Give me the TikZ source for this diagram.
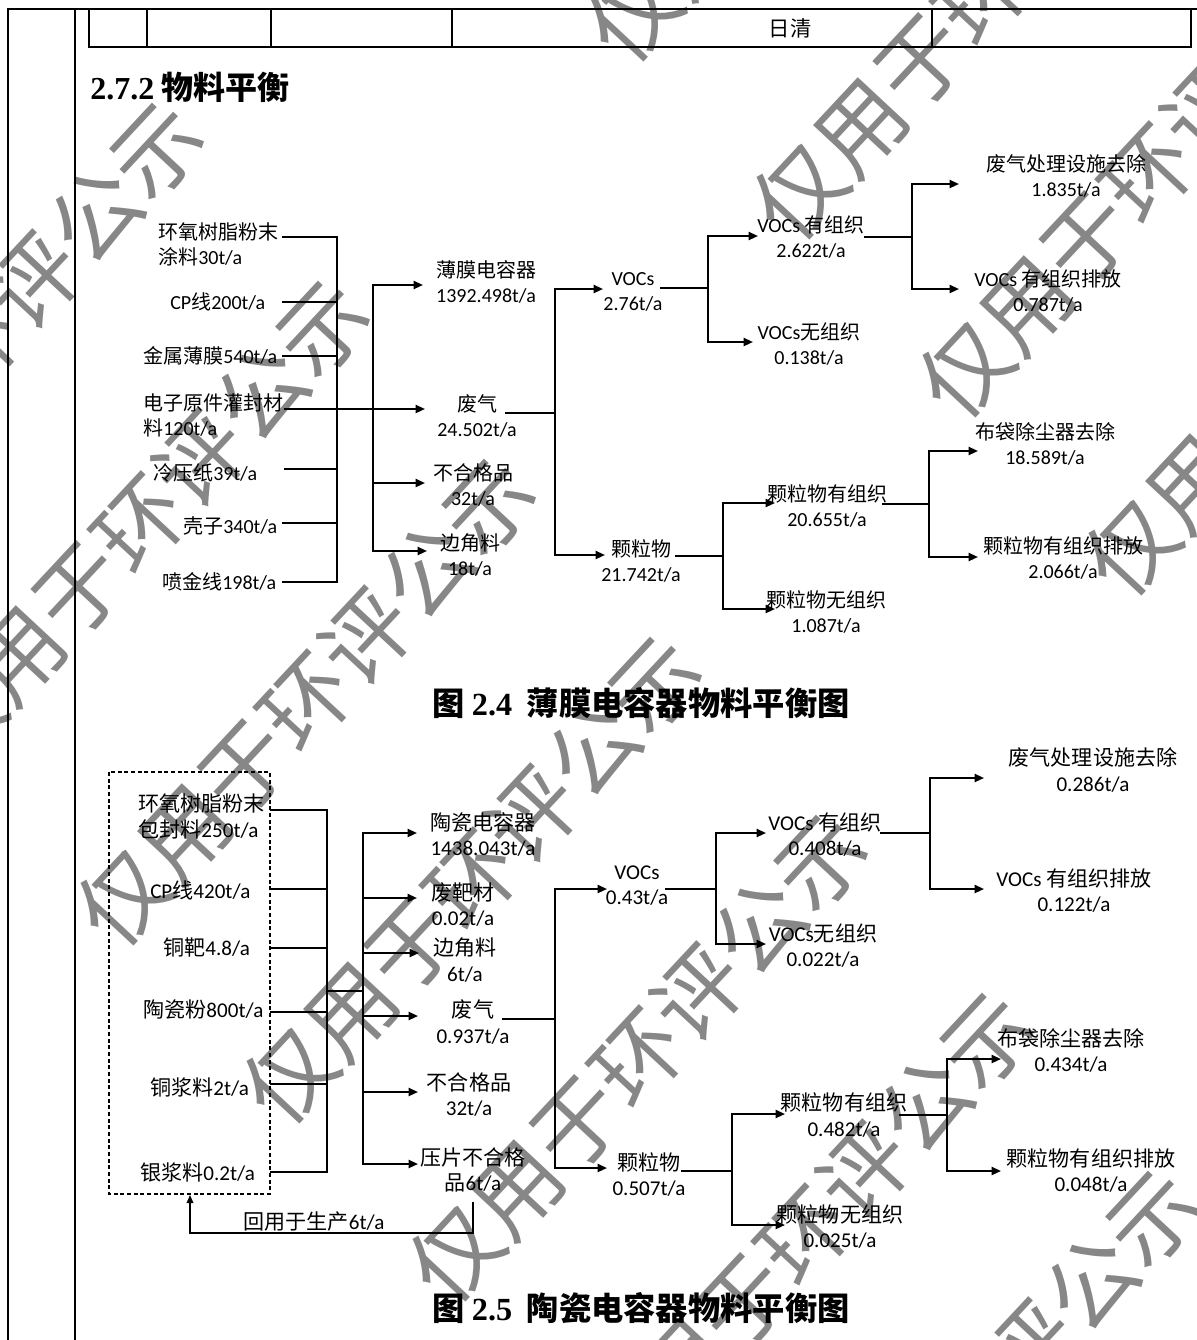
\documentclass[tikz,border=0pt]{standalone}
\usepackage{fontspec}
\setmainfont{Carlito}
\newfontfamily\cjk{Noto Sans CJK SC}
\newfontfamily\tnr{Liberation Serif}
\usetikzlibrary{arrows.meta}
\newcommand\zc[1]{{\cjk #1}}
\begin{document}
\begin{tikzpicture}[x=0.75pt,y=-0.75pt,
  lbl/.style={font=\fontsize{15}{18.75}\selectfont, align=center, inner sep=0pt},
  lbll/.style={lbl, align=left, anchor=west},
  lbl2/.style={font=\fontsize{15.8}{19.2}\selectfont, align=center, inner sep=0pt},
  lbl2l/.style={lbl2, align=left, anchor=west},
  ln/.style={line width=1.5pt, line cap=rect},
  arr/.style={line width=1.5pt, line cap=rect, -{Triangle[length=7pt,width=6pt]}},
  thinarr/.style={line width=1pt, -{Triangle[length=6pt,width=5pt]}},
  dbox/.style={line width=0.8pt, dash pattern=on 3pt off 2pt},
  wm/.style={font={\cjk\fontsize{67}{67}\selectfont}, text=black!47, rotate=47, inner sep=0pt},
  capt/.style={font=\fontsize{24.2}{24.2}\selectfont, inner sep=0pt},
  tbl/.style={line width=0.9pt}]
\useasboundingbox (0,0) rectangle (1197,1340);
\clip (0,0) rectangle (1197,1340);
\fill[white] (0,0) rectangle (1197,1340);

% ---------- watermark ----------
\node[wm] (w0) at (-26,346) {仅用于环评公示};
\node[wm] (w1) at (140,524) {仅用于环评公示};
\node[wm] (w1b) at (816,-182) {仅用于环评公示};
\node[wm] (w2) at (306,702) {仅用于环评公示};
\node[wm] (w2b) at (982,-4) {仅用于环评公示};
\node[wm] (w3) at (472,880) {仅用于环评公示};
\node[wm] (w3b) at (1148,174) {仅用于环评公示};
\node[wm] (w4) at (638,1058) {仅用于环评公示};
\node[wm] (w4b) at (1314,352) {仅用于环评公示};
\node[wm] (w5) at (804,1236) {仅用于环评公示};
\node[wm] (w6) at (970,1414) {仅用于环评公示};

% ---------- page frame and table ----------
\coordinate (pt1) at (7,9);
\coordinate (pt2) at (1197,9);
\draw[line width=2.2pt] (pt1) -- (pt2);
\coordinate (lo1) at (8,9);
\coordinate (lo2) at (8,1340);
\draw[line width=1.5pt] (lo1) -- (lo2);
\coordinate (li1) at (75,9);
\coordinate (li2) at (75,1340);
\draw[line width=1.2pt] (li1) -- (li2);
\coordinate (tb1) at (89,9);
\coordinate (tb2) at (1191,47);
\draw[tbl] (tb1) |- (tb2) -- (tb2 |- tb1);
\foreach \cx in {147,271,452,932} \draw[tbl] (\cx,9) -- (\cx,47);
\node[font={\cjk\fontsize{16}{16}\selectfont}, inner sep=0pt] (rq) at (790,28) {日清};

\node[anchor=west, inner sep=0pt, font=\fontsize{24}{24}\selectfont] (hd) at (90,87) {{\tnr\bfseries 2.7.2} {\cjk\bfseries 物料平衡}};

% ================= Diagram 1 =================
\node[lbll] (in1) at (158,244.5) {\zc{环氧树脂粉末}\\\zc{涂料}30t/a};
\node[lbll] (in2) at (170,302) {CP\zc{线}200t/a};
\node[lbll] (in3) at (143,356) {\zc{金属薄膜}540t/a};
\node[lbll] (in4) at (143,415) {\zc{电子原件灌封材}\\\zc{料}120t/a};
\node[lbll] (in5) at (153,473) {\zc{冷压纸}39t/a};
\node[lbll] (in6) at (183,526) {\zc{壳子}340t/a};
\node[lbll] (in7) at (162,582) {\zc{喷金线}198t/a};

\node[lbl] (o1) at (486,281.5) {\zc{薄膜电容器}\\1392.498t/a};
\node[lbl] (o2) at (477,415.5) {\zc{废气}\\24.502t/a};
\node[lbl] (o3) at (473,485) {\zc{不合格品}\\32t/a};
\node[lbl] (o4) at (470,555) {\zc{边角料}\\18t/a};
\node[lbl] (v1) at (633,291.5) {VOCs\\2.76t/a};
\node[lbl] (p1) at (641,560.5) {\zc{颗粒物}\\21.742t/a};
\node[lbl] (v2) at (811,237.5) {VOCs \zc{有组织}\\2.622t/a};
\node[lbl] (v3) at (809,344) {VOCs\zc{无组织}\\0.138t/a};
\node[lbl] (v4) at (1066,176) {\zc{废气处理设施去除}\\1.835t/a};
\node[lbl] (v5) at (1048,291) {VOCs \zc{有组织排放}\\0.787t/a};
\node[lbl] (p2) at (827,506) {\zc{颗粒物有组织}\\20.655t/a};
\node[lbl] (p3) at (826,611.5) {\zc{颗粒物无组织}\\1.087t/a};
\node[lbl] (p4) at (1045,443.5) {\zc{布袋除尘器去除}\\18.589t/a};
\node[lbl] (p5) at (1063,557.5) {\zc{颗粒物有组织排放}\\2.066t/a};

\coordinate (a1) at (283,237); \coordinate (a2) at (283,302);
\coordinate (a3) at (283,356); \coordinate (a4) at (285,409);
\coordinate (a5) at (285,469); \coordinate (a6) at (283,523);
\coordinate (a7) at (283,582);
\coordinate (j1t) at (337,237); \coordinate (j1b) at (337,582);
\coordinate (j2t) at (373,285); \coordinate (j2b) at (373,551);
\coordinate (t1) at (423,285); \coordinate (t2) at (425,409);
\coordinate (t3) at (425,483); \coordinate (t4) at (427,551);
\coordinate (g1) at (506,413); \coordinate (j3t) at (555,289);
\coordinate (j3b) at (555,555); \coordinate (j3m) at (555,413);
\coordinate (t5) at (603,289); \coordinate (t6) at (605,555);
\coordinate (g2) at (661,288); \coordinate (j4t) at (708,236);
\coordinate (j4b) at (708,342); \coordinate (j4m) at (708,288);
\coordinate (t7) at (758,236); \coordinate (t8) at (753,342);
\coordinate (g3) at (865,237); \coordinate (j5t) at (912,184);
\coordinate (j5b) at (912,289); \coordinate (j5m) at (912,237);
\coordinate (t9) at (959,184); \coordinate (t10) at (959,289);
\coordinate (g4) at (676,556); \coordinate (j6t) at (723,503);
\coordinate (j6b) at (723,609); \coordinate (j6m) at (723,556);
\coordinate (t11) at (775,503); \coordinate (t12) at (775,609);
\coordinate (g5) at (883,504); \coordinate (j7t) at (929,451);
\coordinate (j7b) at (929,557); \coordinate (j7m) at (929,504);
\coordinate (t13) at (978,451); \coordinate (t14) at (978,557);

\draw[ln] (a1) -- (j1t) -- (j1b) -- (a7);
\draw[ln] (a2) -- (a2 -| j1t);
\draw[ln] (a3) -- (a3 -| j1t);
\draw[ln] (a5) -- (a5 -| j1t);
\draw[ln] (a6) -- (a6 -| j1t);
\draw[arr] (a4) -- (t2);
\draw[arr] (j2b) -- (j2t) -- (t1);
\draw[arr] (j2b) -- (t4);
\draw[arr] (t3 -| j2t) -- (t3);
\draw[ln] (g1) -- (j3m);
\draw[arr] (j3b) -- (j3t) -- (t5);
\draw[arr] (j3b) -- (t6);
\draw[ln] (g2) -- (j4m);
\draw[arr] (j4b) -- (j4t) -- (t7);
\draw[arr] (j4b) -- (t8);
\draw[ln] (g3) -- (j5m);
\draw[arr] (j5b) -- (j5t) -- (t9);
\draw[arr] (j5b) -- (t10);
\draw[ln] (g4) -- (j6m);
\draw[arr] (j6b) -- (j6t) -- (t11);
\draw[arr] (j6b) -- (t12);
\draw[ln] (g5) -- (j7m);
\draw[arr] (j7b) -- (j7t) -- (t13);
\draw[arr] (j7b) -- (t14);

\node[capt] (cap1) at (641,703) {{\cjk\bfseries 图} {\tnr\bfseries 2.4}\ \ {\cjk\bfseries 薄膜电容器物料平衡图}};

% ================= Diagram 2 =================
\coordinate (bx1) at (109,772); \coordinate (bx2) at (270,1194);
\draw[dbox] (bx1) rectangle (bx2);

\node[lbl2l] (i1) at (138,816.5) {\zc{环氧树脂粉末}\\\zc{包封料}250t/a};
\node[lbl2l] (i2) at (150,890) {CP\zc{线}420t/a};
\node[lbl2l] (i3) at (163,948) {\zc{铜靶}4.8/a};
\node[lbl2l] (i4) at (143,1009) {\zc{陶瓷粉}800t/a};
\node[lbl2l] (i5) at (150,1087) {\zc{铜浆料}2t/a};
\node[lbl2l] (i6) at (140,1172) {\zc{银浆料}0.2t/a};

\node[lbl2] (c1) at (483,834.5) {\zc{陶瓷电容器}\\1438.043t/a};
\node[lbl2] (c2) at (463,904.5) {\zc{废靶材}\\0.02t/a};
\node[lbl2] (c3) at (465,960) {\zc{边角料}\\6t/a};
\node[lbl2] (c4) at (473,1022) {\zc{废气}\\0.937t/a};
\node[lbl2] (c5) at (469,1094.5) {\zc{不合格品}\\32t/a};
\node[lbl2] (c6) at (473,1170) {\zc{压片不合格}\\\zc{品}6t/a};
\node[lbl2] (d1) at (637,885.5) {VOCs\\0.43t/a};
\node[lbl2] (d2) at (649,1174.5) {\zc{颗粒物}\\0.507t/a};
\node[lbl2] (d3) at (825,834.5) {VOCs \zc{有组织}\\0.408t/a};
\node[lbl2] (d4) at (823,945.5) {VOCs\zc{无组织}\\0.022t/a};
\node[lbl2] (d5) at (1093,770) {\zc{废气处理设施去除}\\0.286t/a};
\node[lbl2] (d6) at (1074,890.5) {VOCs \zc{有组织排放}\\0.122t/a};
\node[lbl2] (d7) at (844,1115) {\zc{颗粒物有组织}\\0.482t/a};
\node[lbl2] (d8) at (840,1226.5) {\zc{颗粒物无组织}\\0.025t/a};
\node[lbl2] (d9) at (1071,1050.5) {\zc{布袋除尘器去除}\\0.434t/a};
\node[lbl2] (d10) at (1091,1170.5) {\zc{颗粒物有组织排放}\\0.048t/a};
\node[lbl2] (fb) at (314,1222) {\zc{回用于生产}6t/a};

\coordinate (e1) at (271,810); \coordinate (e2) at (271,889);
\coordinate (e3) at (271,948); \coordinate (e4) at (271,1012);
\coordinate (e5) at (271,1084); \coordinate (e6) at (271,1172);
\coordinate (k1t) at (327,810); \coordinate (k1b) at (327,1172);
\coordinate (k1m) at (327,991); \coordinate (k2m) at (363,991);
\coordinate (k2t) at (363,833); \coordinate (k2b) at (363,1164);
\coordinate (u1) at (417,833); \coordinate (u2) at (417,898);
\coordinate (u3) at (419,953); \coordinate (u4) at (418,1016);
\coordinate (u5) at (418,1092); \coordinate (u6) at (418,1164);
\coordinate (h1) at (503,1019); \coordinate (k3t) at (555,889);
\coordinate (k3b) at (555,1168); \coordinate (k3m) at (555,1019);
\coordinate (u7) at (607,889); \coordinate (u8) at (607,1168);
\coordinate (h2) at (666,889); \coordinate (k4t) at (716,833);
\coordinate (k4b) at (716,944); \coordinate (k4m) at (716,889);
\coordinate (u9) at (766,833); \coordinate (u10) at (766,944);
\coordinate (h3) at (881,833); \coordinate (k5t) at (930,778);
\coordinate (k5b) at (930,889); \coordinate (k5m) at (930,833);
\coordinate (u11) at (984,778); \coordinate (u12) at (984,889);
\coordinate (h4) at (682,1171); \coordinate (k6t) at (732,1114);
\coordinate (k6b) at (732,1225); \coordinate (k6m) at (732,1171);
\coordinate (u13) at (785,1114); \coordinate (u14) at (785,1225);
\coordinate (h5) at (900,1115); \coordinate (k7t) at (947,1059);
\coordinate (k7b) at (947,1171); \coordinate (k7m) at (947,1115);
\coordinate (u15) at (1001,1059); \coordinate (u16) at (1001,1171);
\coordinate (f1) at (473,1202); \coordinate (f2) at (473,1233);
\coordinate (f3) at (190,1233); \coordinate (f4) at (190,1195);

\draw[ln] (e1) -- (k1t) -- (k1b) -- (e6);
\draw[ln] (e2) -- (e2 -| k1t);
\draw[ln] (e3) -- (e3 -| k1t);
\draw[ln] (e4) -- (e4 -| k1t);
\draw[ln] (e5) -- (e5 -| k1t);
\draw[ln] (k1m) -- (k2m);
\draw[arr] (k2b) -- (k2t) -- (u1);
\draw[arr] (k2t) -- (k2b) -- (u6);
\draw[arr] (u2 -| k2t) -- (u2);
\draw[arr] (u3 -| k2t) -- (u3);
\draw[arr] (u4 -| k2t) -- (u4);
\draw[arr] (u5 -| k2t) -- (u5);
\draw[ln] (h1) -- (k3m);
\draw[arr] (k3b) -- (k3t) -- (u7);
\draw[arr] (k3b) -- (u8);
\draw[ln] (h2) -- (k4m);
\draw[arr] (k4b) -- (k4t) -- (u9);
\draw[arr] (k4b) -- (u10);
\draw[ln] (h3) -- (k5m);
\draw[arr] (k5b) -- (k5t) -- (u11);
\draw[arr] (k5b) -- (u12);
\draw[ln] (h4) -- (k6m);
\draw[arr] (k6b) -- (k6t) -- (u13);
\draw[arr] (k6b) -- (u14);
\draw[ln] (h5) -- (k7m);
\draw[arr] (k7b) -- (k7t) -- (u15);
\draw[arr] (k7b) -- (u16);
\draw[thinarr] (f1) -- (f2) -- (f3) -- (f4);

\node[capt] (cap2) at (641,1308) {{\cjk\bfseries 图} {\tnr\bfseries 2.5}\ \ {\cjk\bfseries 陶瓷电容器物料平衡图}};
\end{tikzpicture}
\end{document}
